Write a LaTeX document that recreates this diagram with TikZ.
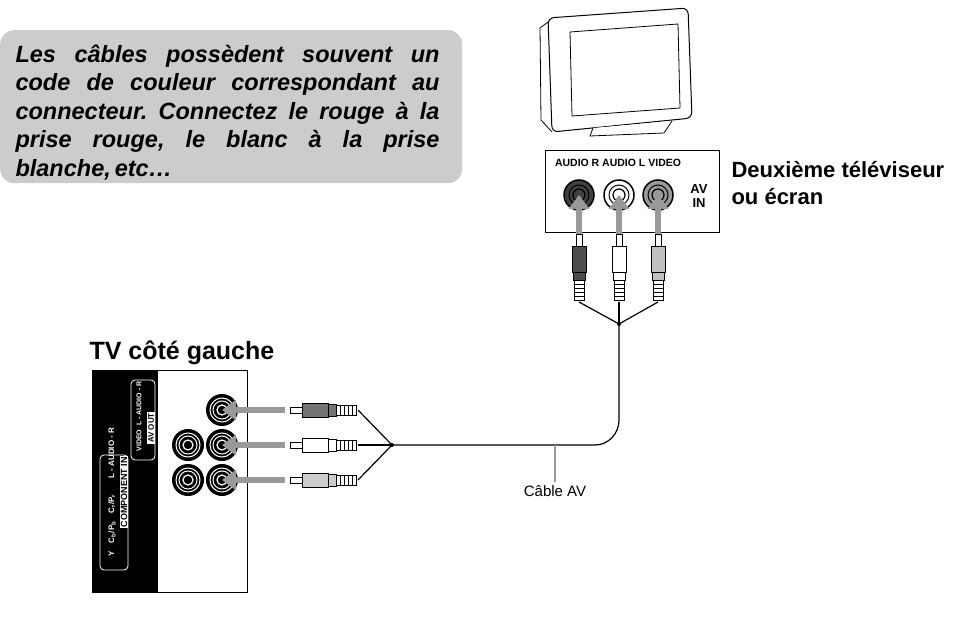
\documentclass[tikz,border=0pt]{standalone}
\usepackage{fontspec}
\setmainfont{Liberation Sans}
\usetikzlibrary{positioning,arrows.meta}
\definecolor{boxgrey}{gray}{0.8}
\definecolor{arrowgrey}{gray}{0.6}
\tikzset{
  jack/.style={circle, draw=black, line width=1.5pt, fill=#1, minimum size=30pt, inner sep=0pt,
    path picture={\draw[line width=1pt] (path picture bounding box.center) circle (10pt);
                  \draw[line width=1.2pt] (path picture bounding box.center) circle (6pt);}},
  darkjack/.style={circle, fill=black, minimum size=32pt, inner sep=0pt,
    path picture={\draw[white, line width=1pt] (path picture bounding box.center) circle (12pt);
                  \draw[white, line width=1pt] (path picture bounding box.center) circle (9pt);
                  \draw[white, line width=1.2pt] (path picture bounding box.center) circle (5pt);}},
  push/.style={draw=arrowgrey, line width=6pt, -{Triangle[length=14pt,width=20pt]}},
  wire/.style={line width=1.2pt},
  rca/.pic={
    \draw[fill=white, line width=0.8pt] (0,-3) rectangle (12,3);
    \draw[fill=#1, line width=0.8pt] (12,-7) rectangle (38,7);
    \draw[fill=#1, line width=0.8pt] (38,-6) rectangle (46,6);
    \draw[fill=white, line width=0.8pt] (46,-5) rectangle (66,5);
    \foreach \k in {50,54,...,62} \draw (\k,-5) -- (\k,5);
    \coordinate (-tail) at (68,0);
  },
}
\begin{document}
\frenchspacing
\begin{tikzpicture}[x=1pt,y=-1pt]
  \useasboundingbox (0,0) rectangle (973,617);

  % note box
  \node[fill=boxgrey, rounded corners=14pt, minimum width=462pt, minimum height=153pt, anchor=north west] (note) at (0,30) {};
  \node[text width=424pt, align=justify, font=\bfseries\itshape\fontsize{23.5}{28.5}\selectfont, anchor=north west] (notetext) at (12,41)
    {Les câbles possèdent souvent un\linebreak code de couleur correspondant au\linebreak connecteur. Connectez le rouge à la\linebreak prise rouge, le blanc à la prise\linebreak blanche,\,etc…\hfill\null};

  % second tv
  \draw[line width=1pt, fill=white, rounded corners=6pt] (548,18) -- (688,8) -- (692,118) -- (552,132) -- cycle;
  \draw[line width=0.8pt] (548,22) -- (540,28) -- (541,120) -- (552,132);
  \draw[line width=0.8pt] (570,32) -- (678,24) -- (680,108) -- (572,116) -- cycle;
  \draw[line width=0.8pt, fill=white] (593,128) -- (590,136) -- (664,133) -- (672,121);

  % av in panel
  \node[draw, line width=1pt, minimum width=174pt, minimum height=82pt, anchor=north west] (avin) at (545,150) {};
  \node[font=\bfseries\fontsize{10.5}{12}\selectfont] (avlabels) at (618,163) {AUDIO R\ AUDIO L\ VIDEO};
  \node[jack=black!75] (inR) at (579,195) {};
  \node[jack=white] (inL) at (619,195) {};
  \node[jack=black!40] (inV) at (658,195) {};
  \node[font=\bfseries\fontsize{13}{14}\selectfont, align=center] (avintext) at (699,196) {AV\\IN};
  \node[font=\bfseries\fontsize{22}{27}\selectfont, align=left, anchor=north west] (tv2) at (728,158) {Deuxième téléviseur\\ou écran};

  \foreach \j/\x in {inR/579,inL/619,inV/658} \draw[push] (\x,268) -- (\j.center);
  \pic[rotate=-90] (pR) at (579,234) {rca=black!70};
  \pic[rotate=-90] (pL) at (619,234) {rca=white};
  \pic[rotate=-90] (pV) at (658,234) {rca=black!25};
  \coordinate (topjoin) at (619,324);
  \foreach \p in {pR,pL,pV} \draw[wire] (\p-tail) -- (topjoin);
  \fill (topjoin) circle (2pt);

  % left tv
  \node[font=\bfseries\fontsize{25}{28}\selectfont, anchor=south west] (tv1) at (86,368) {TV côté gauche};
  \node[draw, line width=1pt, minimum width=155pt, minimum height=222pt, anchor=north west] (panel) at (92,370) {};
  \fill (92,370) rectangle (158,592);
  \draw[white, line width=0.8pt, rounded corners=4pt] (100,570) -- (100,455) -- (128,455) -- (128,570) -- cycle;
  \draw[white, line width=0.8pt, rounded corners=4pt] (131,460) -- (131,380) -- (155,380) -- (155,460) -- cycle;
  \node[white, rotate=90, font=\bfseries\fontsize{8}{9}\selectfont, anchor=west] (lY) at (112,560) {Y\quad C\textsubscript{b}/P\textsubscript{b}\quad C\textsubscript{r}/P\textsubscript{r}\qquad L - AUDIO - R};
  \node[fill=white, rotate=90, font=\bfseries\fontsize{9}{10}\selectfont, inner sep=1pt] (lcomp) at (124,492) {COMPONENT IN};
  \node[white, rotate=90, font=\bfseries\fontsize{7}{8}\selectfont, anchor=west] (lvid) at (139,455) {VIDEO\ \ L - AUDIO - R};
  \node[fill=white, rotate=90, font=\bfseries\fontsize{8}{9}\selectfont, inner sep=1pt] (lavout) at (151,428) {AV OUT};

  \node[darkjack] (oR) at (222,410) {};
  \node[darkjack] (oL) at (222,445) {};
  \node[darkjack] (oV) at (222,480) {};
  \node[darkjack] (cL) at (188,445) {};
  \node[darkjack] (cR) at (188,480) {};
  \foreach \j/\y in {oR/410,oL/445,oV/480} \draw[push] (285,\y) -- (\j.center);
  \pic (qR) at (290,410) {rca=black!55};
  \pic (qL) at (290,445) {rca=white};
  \pic (qV) at (290,480) {rca=black!20};
  \coordinate (leftjoin) at (392,445);
  \foreach \p in {qR,qL,qV} \draw[wire] (\p-tail) -- (leftjoin);
  \fill (leftjoin) circle (2pt);

  % cable
  \draw[wire] (leftjoin) -- (595,445) to[out=0, in=-90] (619,420) -- (topjoin);
  \coordinate (tick) at (555,445);
  \node[font=\fontsize{15}{17}\selectfont, anchor=north] (cablelabel) at (555,482) {Câble AV};
  \draw[draw=arrowgrey, line width=2pt] (tick) -- (cablelabel.north);
\end{tikzpicture}
\end{document}
